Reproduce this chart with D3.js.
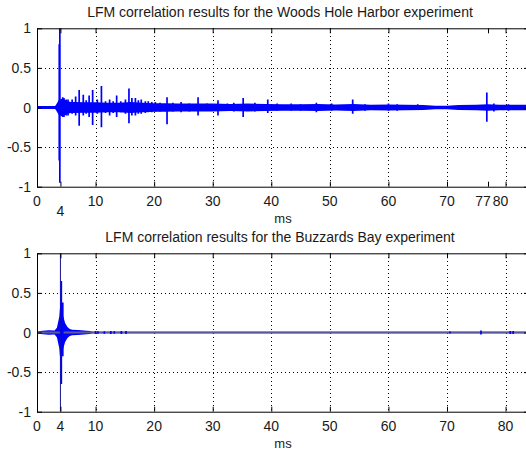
<!DOCTYPE html>
<html>
<head>
<meta charset="utf-8">
<script src="https://cdn.jsdelivr.net/npm/d3@7"></script>
<style>
  html, body { margin: 0; padding: 0; background: #fff; }
  svg { display: block; }
  text { font-family: "Liberation Sans", Arial, sans-serif; fill: #1a1a1a; }
</style>
</head>
<body>
<svg id="chart" width="526" height="454"></svg>
<script>
// ---- Woods Hole Harbor: noise envelope (ms, half-amplitude)
const woodsEnvT = [0, 3.0, 3.3, 3.7, 4.2, 4.7, 5.2, 5.8, 6.5, 8, 10, 12, 14, 16, 18, 20, 22, 24, 26, 28, 30, 33, 36, 39, 42, 45, 48, 51, 54, 57, 60, 63, 66, 68, 70, 72, 75, 77, 79, 81, 84];
const woodsEnvA = [0.008, 0.008, 0.04, 0.09, 0.11, 0.1, 0.08, 0.07, 0.07, 0.065, 0.065, 0.06, 0.06, 0.07, 0.06, 0.055, 0.055, 0.05, 0.05, 0.05, 0.05, 0.045, 0.05, 0.045, 0.04, 0.04, 0.045, 0.038, 0.045, 0.035, 0.038, 0.035, 0.03, 0.022, 0.022, 0.03, 0.035, 0.04, 0.035, 0.035, 0.035];
// ---- Woods Hole Harbor: arrivals (ms, positive peak, negative peak)
const woodsSpikeT  = [3.8, 3.9, 4.4, 4.6, 5.0, 5.3, 6.0, 6.6, 7.2, 7.9, 8.4, 8.9, 9.5, 10.3, 11.0, 11.7, 12.4, 13.0, 13.6, 14.3, 15.1, 15.7, 16.2, 16.8, 17.3, 17.8, 18.5, 19.0, 19.6, 20.2, 21.0, 22.2, 23.2, 24.6, 26.0, 27.5, 29.0, 30.9, 32.5, 33.6, 35.2, 37.2, 39.4, 41.0, 43.4, 45.0, 47.7, 50.3, 53.9, 56.0, 60.0, 61.5, 65.0, 76.8, 78.0, 80.5];
const woodsSpikeHi = [0.8, 1.0, 0.13, 0.12, 0.1, 0.1, 0.1, 0.14, 0.22, 0.16, 0.09, 0.15, 0.22, 0.1, 0.27, 0.08, 0.1, 0.08, 0.15, 0.08, 0.1, 0.24, 0.12, 0.12, 0.09, 0.1, 0.08, 0.08, 0.07, 0.07, 0.06, 0.13, 0.06, 0.07, 0.05, 0.13, 0.05, 0.09, 0.05, 0.06, 0.12, 0.06, 0.1, 0.05, 0.05, 0.04, 0.06, 0.05, 0.1, 0.04, 0.05, 0.04, 0.04, 0.19, 0.05, 0.04];
const woodsSpikeLo = [-0.67, -0.95, -0.12, -0.12, -0.1, -0.1, -0.08, -0.1, -0.23, -0.1, -0.08, -0.12, -0.22, -0.08, -0.25, -0.07, -0.1, -0.07, -0.12, -0.06, -0.08, -0.2, -0.1, -0.1, -0.08, -0.08, -0.07, -0.06, -0.06, -0.05, -0.05, -0.21, -0.05, -0.06, -0.05, -0.1, -0.04, -0.1, -0.04, -0.05, -0.12, -0.05, -0.07, -0.04, -0.04, -0.04, -0.06, -0.04, -0.08, -0.04, -0.04, -0.04, -0.03, -0.18, -0.05, -0.04];

// ---- Buzzards Bay: noise envelope
const buzzEnvT = [0, 0.3, 1, 2, 3, 3.4, 3.8, 4.0, 4.2, 4.5, 4.8, 5.2, 5.6, 6, 7, 8, 9, 9.5, 16, 84];
const buzzEnvA = [0.0, 0.015, 0.022, 0.028, 0.025, 0.06, 0.2, 0.38, 0.3, 0.2, 0.12, 0.07, 0.045, 0.035, 0.03, 0.025, 0.018, 0.008, 0.008, 0.008];
// ---- Buzzards Bay: arrivals
const buzzSpikeT  = [4.0, 4.15, 4.4, 10.0, 10.4, 11.5, 12.6, 13.2, 14.4, 15.2, 70.5, 75.8, 80.8, 81.3];
const buzzSpikeHi = [1.0, 0.65, 0.38, 0.02, 0.015, 0.015, 0.02, 0.015, 0.02, 0.02, 0.012, 0.025, 0.02, 0.02];
const buzzSpikeLo = [-1.0, -0.65, -0.3, -0.02, -0.015, -0.015, -0.02, -0.015, -0.02, -0.02, -0.012, -0.025, -0.02, -0.02];

// ---- axis ticks
const xTicksTop = [0, 4, 10, 20, 30, 40, 50, 60, 70, 77, 80];
const xTicksBottom = [0, 4, 10, 20, 30, 40, 50, 60, 70, 80];
const gridX = [10, 20, 30, 40, 50, 60, 70, 80];
const yTicks = [-1, -0.5, 0, 0.5, 1];
const yTickLabels = ["-1", "-0.5", "0", "0.5", "1"];

const titles = [
  "LFM correlation results for the Woods Hole Harbor experiment",
  "LFM correlation results for the Buzzards Bay experiment"
];

const svg = d3.select("#chart");
const xDomain = [0, 84];
const x = d3.scaleLinear().domain(xDomain).range([37, 529]);

function panel(top, bottom, opts) {
  const y = d3.scaleLinear().domain([-1, 1]).range([bottom, top]);
  const g = svg.append("g");

  // dotted grid
  const grid = g.append("g").attr("stroke", "#000").attr("stroke-width", 1)
    .attr("stroke-dasharray", "1,3").attr("shape-rendering", "crispEdges");
  grid.selectAll("line.gx").data(gridX).join("line")
    .attr("x1", d => Math.round(x(d)) + 0.5).attr("x2", d => Math.round(x(d)) + 0.5)
    .attr("y1", top).attr("y2", bottom);
  grid.selectAll("line.gy").data([0.5, -0.5]).join("line")
    .attr("x1", x(0)).attr("x2", x(xDomain[1]))
    .attr("y1", d => Math.round(y(d)) + 0.5).attr("y2", d => Math.round(y(d)) + 0.5);

  // signal
  const clip = "clip" + opts.id;
  svg.append("clipPath").attr("id", clip).append("rect")
    .attr("x", x(0)).attr("y", top).attr("width", x(xDomain[1]) - x(0)).attr("height", bottom - top);
  const sig = g.append("g").attr("clip-path", `url(#${clip})`);

  const envData = opts.envT.map((t, i) => ({ t, a: opts.envA[i] }));
  sig.append("path").datum(envData)
    .attr("fill", opts.color)
    .attr("d", d3.area().x(d => x(d.t)).y0(d => y(-d.a)).y1(d => y(d.a)));

  sig.append("line")
    .attr("x1", x(opts.baseStart)).attr("x2", x(xDomain[1]))
    .attr("y1", y(0)).attr("y2", y(0))
    .attr("stroke", opts.baseColor).attr("stroke-width", opts.baseWidth);

  const spikes = opts.spT.map((t, i) => ({ t, hi: opts.spHi[i], lo: opts.spLo[i] }));
  sig.selectAll("line.sp").data(spikes).join("line")
    .attr("x1", d => x(d.t)).attr("x2", d => x(d.t))
    .attr("y1", d => y(d.hi)).attr("y2", d => y(d.lo))
    .attr("stroke", (d, i) => (opts.thinFirst && i === 0) ? "#14148c" : opts.color)
    .attr("stroke-width", (d, i) => (opts.thinFirst && i === 0) ? 1 : 1.7);

  // frame
  g.append("rect").attr("x", x(0) + 0.5).attr("y", top + 0.5)
    .attr("width", x(xDomain[1]) - x(0)).attr("height", bottom - top)
    .attr("fill", "none").attr("stroke", "#000").attr("stroke-width", 1);

  // inward ticks
  const tk = g.append("g").attr("stroke", "#000").attr("stroke-width", 1);
  tk.selectAll("line.bx").data(opts.xTicks).join("line")
    .attr("x1", d => x(d) + 0.5).attr("x2", d => x(d) + 0.5)
    .attr("y1", bottom).attr("y2", bottom - 5);
  tk.selectAll("line.tx").data(opts.xTicks).join("line")
    .attr("x1", d => x(d) + 0.5).attr("x2", d => x(d) + 0.5)
    .attr("y1", top).attr("y2", top + 5);
  tk.selectAll("line.ly").data(yTicks).join("line")
    .attr("x1", x(0)).attr("x2", x(0) + 5)
    .attr("y1", d => y(d) + 0.5).attr("y2", d => y(d) + 0.5);
  tk.selectAll("line.ry").data(yTicks).join("line")
    .attr("x1", x(xDomain[1])).attr("x2", x(xDomain[1]) - 5)
    .attr("y1", d => y(d) + 0.5).attr("y2", d => y(d) + 0.5);

  // tick labels
  g.selectAll("text.yl").data(yTicks).join("text")
    .attr("x", x(0) - 6).attr("y", d => y(d)).attr("dy", "0.36em")
    .attr("text-anchor", "end").attr("font-size", 14)
    .text((d, i) => yTickLabels[i]);
  g.selectAll("text.xl").data(opts.xTicks).join("text")
    .attr("x", d => x(d) + (opts.dx[d] || 0))
    .attr("y", d => bottom + 19 + (opts.dy[d] || 0))
    .attr("text-anchor", "middle").attr("font-size", 14)
    .text(d => d);

  g.append("text").attr("x", (x(0) + x(xDomain[1])) / 2).attr("y", bottom + 36)
    .attr("text-anchor", "middle").attr("font-size", 13).text("ms");
  g.append("text").attr("x", (x(0) + x(xDomain[1])) / 2 - 3).attr("y", top - 11)
    .attr("text-anchor", "middle").attr("font-size", 14).text(opts.title);
}

panel(28.3, 186.7, {
  id: "a", title: titles[0], xTicks: xTicksTop,
  dx: { 77: -5, 80: -5 }, dy: { 4: 10 },
  envT: woodsEnvT, envA: woodsEnvA,
  spT: woodsSpikeT, spHi: woodsSpikeHi, spLo: woodsSpikeLo,
  color: "#0000ff", baseColor: "#0000ff", baseWidth: 3, baseStart: 0, thinFirst: false
});
panel(253.3, 411.7, {
  id: "b", title: titles[1], xTicks: xTicksBottom,
  dx: {}, dy: {},
  envT: buzzEnvT, envA: buzzEnvA,
  spT: buzzSpikeT, spHi: buzzSpikeHi, spLo: buzzSpikeLo,
  color: "#0000ff", baseColor: "#5a5aa0", baseWidth: 2, baseStart: 0.2, thinFirst: true
});
</script>
</body>
</html>
